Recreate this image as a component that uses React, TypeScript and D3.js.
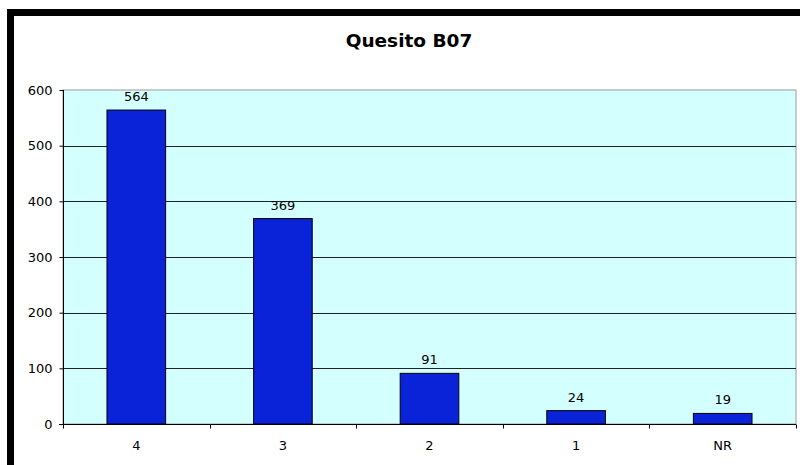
import { useRef, useEffect } from 'react'
import * as d3 from 'd3'

const categories = ['4', '3', '2', '1', 'NR']
const values = [564, 369, 91, 24, 19]
const yTicks = [0, 100, 200, 300, 400, 500, 600]
const title = 'Quesito B07'

function Chart() {
  const svgRef = useRef<SVGSVGElement>(null)

  useEffect(() => {
    const w = 800
    const h = 465
    const svg = d3.select(svgRef.current)
    svg.selectAll('*').remove()
    svg.attr('width', w).attr('height', h)

    const font = 'DejaVu Sans, Verdana, sans-serif'

    // frame: thick black top and left edge
    svg.append('rect').attr('x', 0).attr('y', 0).attr('width', w).attr('height', h).attr('fill', '#fff')
    svg.append('rect').attr('x', 7).attr('y', 9).attr('width', w - 7).attr('height', 7).attr('fill', '#000')
    svg.append('rect').attr('x', 7).attr('y', 9).attr('width', 7).attr('height', h - 9).attr('fill', '#000')

    const left = 63, right = 796, top = 90, bottom = 424

    const x = d3.scaleBand<string>().domain(categories).range([left, right]).paddingInner(0.6).paddingOuter(0.3)
    const xb = d3.scaleBand<string>().domain(categories).range([left, right])
    const y = d3.scaleLinear().domain([0, 600]).range([bottom, top])

    // plot area
    svg.append('rect')
      .attr('x', left).attr('y', top)
      .attr('width', right - left).attr('height', bottom - top)
      .attr('fill', '#d4ffff')
      .attr('stroke', '#9a9a9a').attr('stroke-width', 1)

    // gridlines
    svg.append('g').selectAll('line')
      .data(yTicks.filter(t => t > 0 && t < 600))
      .join('line')
      .attr('x1', left).attr('x2', right)
      .attr('y1', d => Math.round(y(d)) + 0.5).attr('y2', d => Math.round(y(d)) + 0.5)
      .attr('stroke', '#222')

    // bars
    svg.append('g').selectAll('rect')
      .data(values)
      .join('rect')
      .attr('x', (_, i) => x(categories[i])!)
      .attr('y', d => y(d))
      .attr('width', x.bandwidth())
      .attr('height', d => bottom - y(d))
      .attr('fill', '#0a22d8')
      .attr('stroke', '#000').attr('stroke-width', 1)

    // value labels
    svg.append('g').selectAll('text')
      .data(values)
      .join('text')
      .attr('x', (_, i) => x(categories[i])! + x.bandwidth() / 2)
      .attr('y', d => y(d) - 9)
      .attr('text-anchor', 'middle')
      .attr('font-family', font).attr('font-size', 13)
      .attr('fill', '#000')
      .text(d => d)

    // y axis
    const yAxis = d3.axisLeft(y).tickValues(yTicks).tickSize(4).tickPadding(7).tickFormat(d3.format('d'))
    const ya = svg.append('g').attr('transform', `translate(${left + 0.5},0)`).call(yAxis)
    ya.select('.domain').attr('stroke', '#000').attr('d', `M0,${top}V${bottom}`)
    ya.selectAll('text').attr('font-family', font).attr('font-size', 13).attr('fill', '#000')

    // x axis with ticks at category boundaries
    const xa = svg.append('g').attr('transform', `translate(0,${bottom + 0.5})`)
    xa.append('line').attr('x1', left - 4).attr('x2', right).attr('stroke', '#000')
    xa.selectAll('line.tk')
      .data(categories.map(c => xb(c)!).concat([right]))
      .join('line').attr('class', 'tk')
      .attr('x1', d => Math.round(d) + 0.5).attr('x2', d => Math.round(d) + 0.5)
      .attr('y1', 0).attr('y2', 4)
      .attr('stroke', '#000')
    xa.selectAll('text')
      .data(categories)
      .join('text')
      .attr('x', d => xb(d)! + xb.bandwidth() / 2)
      .attr('y', 25)
      .attr('text-anchor', 'middle')
      .attr('font-family', font).attr('font-size', 13)
      .text(d => d)

    // title
    svg.append('text')
      .attr('x', 409).attr('y', 47)
      .attr('text-anchor', 'middle')
      .attr('font-family', font).attr('font-size', 18.5).attr('font-weight', 'bold')
      .text(title)
  }, [])

  return (
    <div style={{ position: 'absolute', left: 0, top: 0 }}>
      <svg ref={svgRef} style={{ display: 'block' }}></svg>
    </div>
  )
}

export default function App() {
  return <Chart />
}
